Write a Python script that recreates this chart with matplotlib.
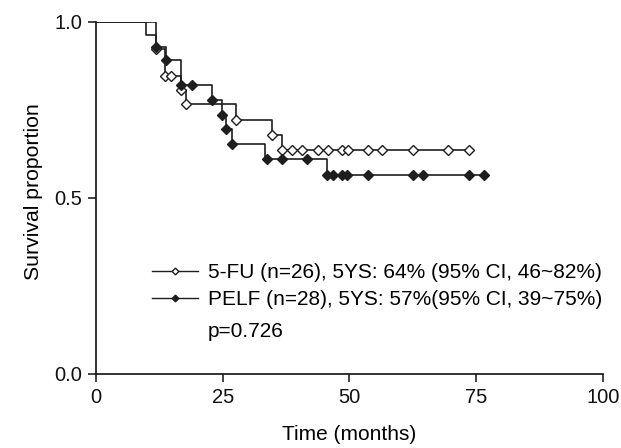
import numpy as np
import matplotlib
matplotlib.use("Agg")
import matplotlib.pyplot as plt

plt.rcParams['font.family'] = ['Liberation Sans', 'DejaVu Sans']

# ==============================
# Data
# ==============================
# 5-FU arm: step times (months) and survival after each step
fu_times = [0, 9.9, 11.9, 13.7, 16.8, 17.8, 27.7, 34.7, 36.6]
fu_surv = [1.0, 0.962, 0.923, 0.846, 0.807, 0.768, 0.722, 0.680, 0.637]
fu_end = 73.6
fu_marks = [11.9, 13.7, 14.7, 16.8, 17.8, 27.7, 34.7, 36.7, 38.7, 40.7,
            43.7, 45.7, 48.5, 49.7, 53.7, 56.5, 62.6, 69.5, 73.6]

# PELF arm
pelf_times = [0, 11.9, 13.9, 16.8, 22.8, 24.8, 25.7, 26.8, 33.4, 45.6]
pelf_surv = [1.0, 0.929, 0.892, 0.820, 0.778, 0.736, 0.695, 0.654, 0.611, 0.565]
pelf_end = 76.5
pelf_marks = [11.9, 13.9, 16.8, 18.9, 22.8, 24.8, 25.7, 26.8, 33.8, 36.7,
              41.7, 45.6, 46.7, 48.5, 49.6, 53.6, 62.5, 64.4, 73.5, 76.5]

labels = ["5-FU (n=26), 5YS: 64% (95% CI, 46~82%)",
          "PELF (n=28), 5YS: 57%(95% CI, 39~75%)"]
p_text = "p=0.726"

x_ticks = [0, 25, 50, 75, 100]
y_ticks = [0.0, 0.5, 1.0]


def surv_at(t, times, surv):
    idx = np.searchsorted(times, t, side="right") - 1
    return np.asarray(surv)[idx]


# ==============================
# Plot
# ==============================
fig = plt.figure(figsize=(6.21, 4.48), dpi=100)
ax = fig.add_axes([0.1546, 0.1652, 0.8164, 0.7857])

line_col = "#1e1e1e"

# 5-FU curve
ax.step(fu_times + [fu_end], fu_surv + [fu_surv[-1]], where="post",
        color=line_col, lw=1.2)
ax.plot(fu_marks, surv_at(fu_marks, fu_times, fu_surv), ls="none", marker="D",
        ms=4.7, mfc="white", mec=line_col, mew=1.0)

# PELF curve
ax.step(pelf_times + [pelf_end], pelf_surv + [pelf_surv[-1]], where="post",
        color=line_col, lw=1.2)
ax.plot(pelf_marks, surv_at(pelf_marks, pelf_times, pelf_surv), ls="none", marker="D",
        ms=4.7, mfc=line_col, mec=line_col, mew=1.0)

# legend handles
h1, = ax.plot([], [], color=line_col, lw=1.0, marker="D", ms=3.4, mfc="white", mec=line_col)
h2, = ax.plot([], [], color=line_col, lw=1.0, marker="D", ms=3.4, mfc=line_col, mec=line_col)
ax.legend([h1, h2], labels, loc="center left", bbox_to_anchor=(0.11, 0.25),
          frameon=False, fontsize=15, handlelength=2.2, handletextpad=0.5,
          borderpad=0, borderaxespad=0, labelspacing=0.4)
ax.text(0.22, 0.122, p_text, transform=ax.transAxes, fontsize=15, va="center", ha="left")

ax.set_xlim(0, 100)
ax.set_ylim(0, 1.0)
ax.set_xticks(x_ticks)
ax.set_yticks(y_ticks)
ax.set_yticklabels([f"{v:.1f}" for v in y_ticks])
ax.tick_params(direction="out", length=6, width=1.1, labelsize=14.5, pad=4, colors="#111")

for side in ["top", "right"]:
    ax.spines[side].set_visible(False)
for side in ["left", "bottom"]:
    ax.spines[side].set_linewidth(1.2)
    ax.spines[side].set_color("#111")

ax.set_xlabel("Time (months)", fontsize=15, labelpad=13)
ax.set_ylabel("Survival proportion", fontsize=15.3, labelpad=8)
ax.yaxis.label.set_y(0.517)

fig.savefig("out.png", dpi=100, facecolor="white")
